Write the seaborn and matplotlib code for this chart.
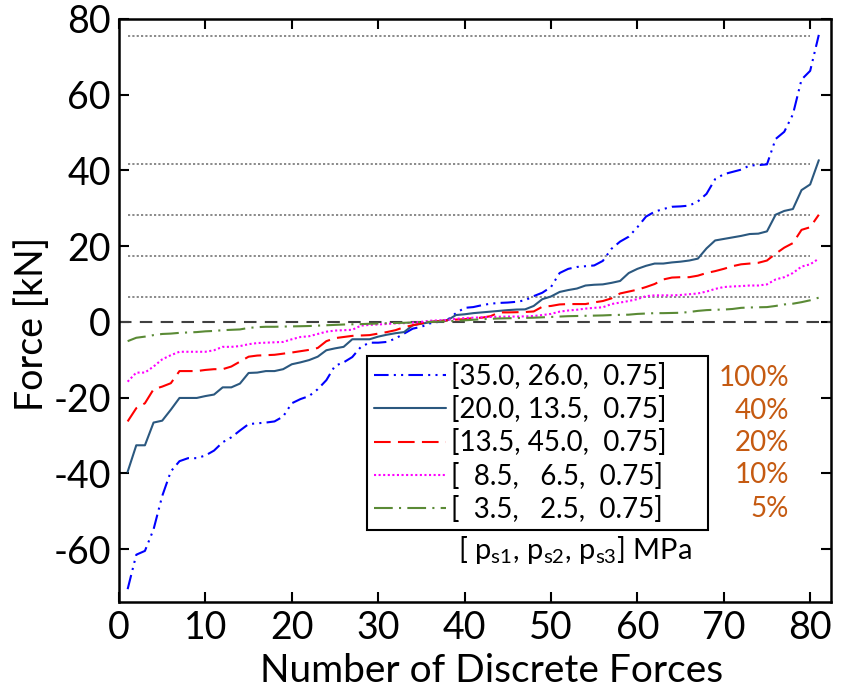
import numpy as np
import pandas as pd
import matplotlib
matplotlib.use("Agg")
import matplotlib.pyplot as plt
import seaborn as sns

# ---------------- data ----------------
n_forces = list(range(1, 82))

f_35_26 = [-70.6, -61.5, -60.5, -54.8, -46.0, -39.5, -36.8, -36.0, -36.0, -35.3,
           -34.0, -31.8, -30.5, -28.7, -27.0, -26.8, -26.6, -26.3, -25.0, -21.5,
           -20.4, -19.6, -17.8, -15.4, -11.6, -10.7, -9.3, -6.6, -5.5, -5.5,
           -5.3, -4.4, -3.1, -1.8, -1.3, -0.4, 0.0, 0.5, 2.3, 3.7,
           3.9, 4.4, 4.8, 5.0, 5.1, 5.3, 5.7, 6.8, 7.7, 9.2,
           12.9, 14.0, 14.5, 14.7, 14.9, 16.1, 19.3, 21.2, 22.5, 25.0,
           27.8, 29.1, 29.8, 30.4, 30.5, 30.7, 31.8, 33.8, 37.7, 39.0,
           39.6, 40.2, 41.3, 41.4, 41.6, 48.3, 50.2, 54.8, 64.0, 66.3,
           75.8]

f_20_13 = [-39.6, -32.6, -32.6, -26.6, -26.1, -23.2, -20.1, -20.1, -20.1, -19.6,
           -19.2, -17.3, -17.3, -16.3, -13.5, -13.4, -13.0, -13.0, -12.5, -11.2,
           -10.7, -10.1, -9.2, -7.5, -7.0, -6.6, -4.6, -4.6, -4.6, -3.9,
           -3.4, -3.0, -2.7, -0.9, -0.5, -0.1, 0.2, 0.4, 1.8, 2.0,
           2.3, 2.5, 2.7, 2.9, 3.1, 3.25, 3.3, 4.2, 6.0, 6.7,
           7.9, 8.4, 8.8, 9.6, 9.8, 9.9, 10.3, 10.8, 12.9, 14.0,
           14.8, 15.4, 15.4, 15.7, 15.9, 16.2, 16.7, 19.4, 21.5, 21.9,
           22.3, 22.7, 23.2, 23.3, 23.9, 28.3, 29.3, 29.8, 34.8, 36.3,
           42.7]

f_13_45 = [-26.3, -22.8, -21.5, -17.8, -17.1, -16.2, -13.0, -13.0, -13.0, -12.7,
           -12.5, -12.5, -11.8, -10.5, -9.2, -8.9, -8.8, -8.7, -8.4, -8.1,
           -7.75, -7.4, -6.9, -5.1, -4.3, -4.0, -3.7, -3.6, -3.5, -3.1,
           -2.7, -2.2, -1.4, -0.9, -0.4, 0.0, 0.2, 0.4, 0.6, 0.7,
           1.0, 1.1, 1.5, 2.5, 2.5, 2.55, 2.6, 2.75, 4.0, 4.2,
           4.6, 4.7, 4.7, 4.7, 5.15, 5.5, 6.2, 7.5, 8.0, 8.5,
           9.2, 10.0, 11.2, 11.7, 11.8, 11.8, 12.2, 12.9, 13.4, 14.0,
           14.7, 15.2, 15.4, 15.6, 16.2, 18.0, 19.6, 20.8, 24.3, 25.0,
           28.3]

f_8_6 = [-15.8, -13.4, -13.4, -11.8, -9.9, -8.8, -7.9, -7.9, -7.9, -7.9,
         -7.5, -6.6, -6.6, -6.4, -5.9, -5.6, -5.5, -5.4, -5.3, -4.6,
         -4.0, -3.8, -3.2, -2.6, -2.3, -2.2, -2.1, -1.0, -0.8, -0.7,
         -0.55, -0.4, -0.35, -0.2, 0.0, 0.3, 0.4, 0.5, 0.8, 1.0,
         1.1, 1.2, 1.3, 1.35, 1.4, 1.4, 1.45, 1.55, 1.8, 2.1,
         2.7, 3.0, 3.2, 3.5, 3.7, 3.85, 4.7, 5.1, 5.5, 6.0,
         6.8, 7.0, 7.0, 7.0, 7.1, 7.3, 7.5, 8.0, 8.7, 9.2,
         9.35, 9.45, 9.6, 9.6, 9.9, 11.2, 11.8, 12.9, 14.6, 15.2,
         16.7]

f_3_2 = [-5.1, -4.2, -3.9, -3.5, -3.2, -3.1, -2.9, -2.8, -2.7, -2.5,
         -2.4, -2.2, -2.1, -2.0, -1.6, -1.4, -1.3, -1.3, -1.25, -1.2,
         -1.15, -1.1, -1.0, -0.9, -0.8, -0.7, -0.65, -0.6, -0.5, -0.45,
         -0.35, -0.3, -0.25, -0.15, -0.05, 0.0, 0.05, 0.15, 0.3, 0.4,
         0.55, 0.7, 0.8, 0.9, 0.95, 1.0, 1.05, 1.1, 1.2, 1.3,
         1.4, 1.5, 1.55, 1.6, 1.65, 1.7, 1.8, 1.85, 1.9, 2.1,
         2.2, 2.3, 2.3, 2.35, 2.4, 2.6, 2.9, 3.1, 3.2, 3.25,
         3.4, 3.7, 3.8, 3.85, 3.9, 4.2, 4.6, 4.8, 5.2, 5.7,
         6.4]

series_labels = ["[35.0, 26.0,  0.75]",
                 "[20.0, 13.5,  0.75]",
                 "[13.5, 45.0,  0.75]",
                 "[  8.5,   6.5,  0.75]",
                 "[  3.5,   2.5,  0.75]"]
percent_labels = ["100%", "40%", "20%", "10%", "5%"]
ref_levels = [75.5, 41.8, 28.2, 17.5, 6.5]
x_ticks = [0, 10, 20, 30, 40, 50, 60, 70, 80]
y_ticks = [-60, -40, -20, 0, 20, 40, 60, 80]

# ---------------- style ----------------
sns.set_style("ticks")
plt.rcParams["font.family"] = ["Lato", "DejaVu Sans"]
plt.rcParams["mathtext.fontset"] = "custom"
plt.rcParams["mathtext.rm"] = "Lato"
plt.rcParams["mathtext.it"] = "Lato"
plt.rcParams["axes.unicode_minus"] = False
for k in ["text.color", "axes.labelcolor", "xtick.color", "ytick.color",
          "xtick.labelcolor", "ytick.labelcolor", "axes.edgecolor"]:
    plt.rcParams[k] = "black"

colors = ["#0000ff", "#2b587f", "#ff0000", "#ff00ff", "#5a8a35"]
dash_patterns = [(7, 2.5, 1, 2.5, 1, 2.5), None, (8, 3.5), (1, 1.2), (9, 3, 1, 3)]

fig = plt.figure(figsize=(8.41, 6.90), dpi=100)
ax = fig.add_axes([0.1415, 0.1275, 0.8465, 0.845])

all_series = [f_35_26, f_20_13, f_13_45, f_8_6, f_3_2]

# reference level lines
for lvl in ref_levels:
    ax.hlines(lvl, 1, 80, colors="#808080", linestyles=(0, (1.2, 1.2)), lw=1.3, zorder=1)
ax.axhline(0, color="#404040", lw=1.5, ls=(0, (6, 4)), zorder=1)

for vals, c, d, lab in zip(all_series, colors, dash_patterns, series_labels):
    df = pd.DataFrame({"n": n_forces, "force": vals})
    sns.lineplot(data=df, x="n", y="force", color=c, lw=1.5, ax=ax, label=lab, zorder=3)
    line = ax.lines[-1]
    if d is not None:
        line.set_dashes(d)

ax.set_xlim(0, 82.4)
ax.set_ylim(-74, 80)
ax.set_xticks(x_ticks)
ax.set_yticks(y_ticks)
ax.tick_params(direction="in", length=7, width=1.5, labelsize=27,
               top=True, right=True, pad=6, colors="black")
for s in ax.spines.values():
    s.set_linewidth(1.8)
    s.set_color("black")

ax.set_xlabel("Number of Discrete Forces", fontsize=28)
ax.set_ylabel("Force [kN]", fontsize=27)
ax.xaxis.set_label_coords(0.524, -0.088)
ax.yaxis.set_label_coords(-0.097, 0.477)

leg = ax.legend(loc="lower left", bbox_to_anchor=(0.348, 0.1235, 0.479, 0.3),
                mode="expand", fontsize=20,
                frameon=True, fancybox=False, edgecolor="black", framealpha=1,
                handlelength=2.6, handletextpad=0.2, labelspacing=0.23,
                borderpad=0.25, borderaxespad=0)
leg.get_frame().set_linewidth(1.5)

pct_y = [0.384, 0.328, 0.273, 0.218, 0.159]
for t, yy in zip(percent_labels, pct_y):
    ax.text(0.941, yy, t, transform=ax.transAxes, ha="right", va="center",
            fontsize=20, color="#c55a11", zorder=10)

ax.text(0.64, 0.089, r"[ p$_{\rm s1}$, p$_{\rm s2}$, p$_{\rm s3}$] MPa",
        transform=ax.transAxes, ha="center", va="center", fontsize=21,
        color="black", zorder=10)

fig.savefig("out.png", dpi=100)
